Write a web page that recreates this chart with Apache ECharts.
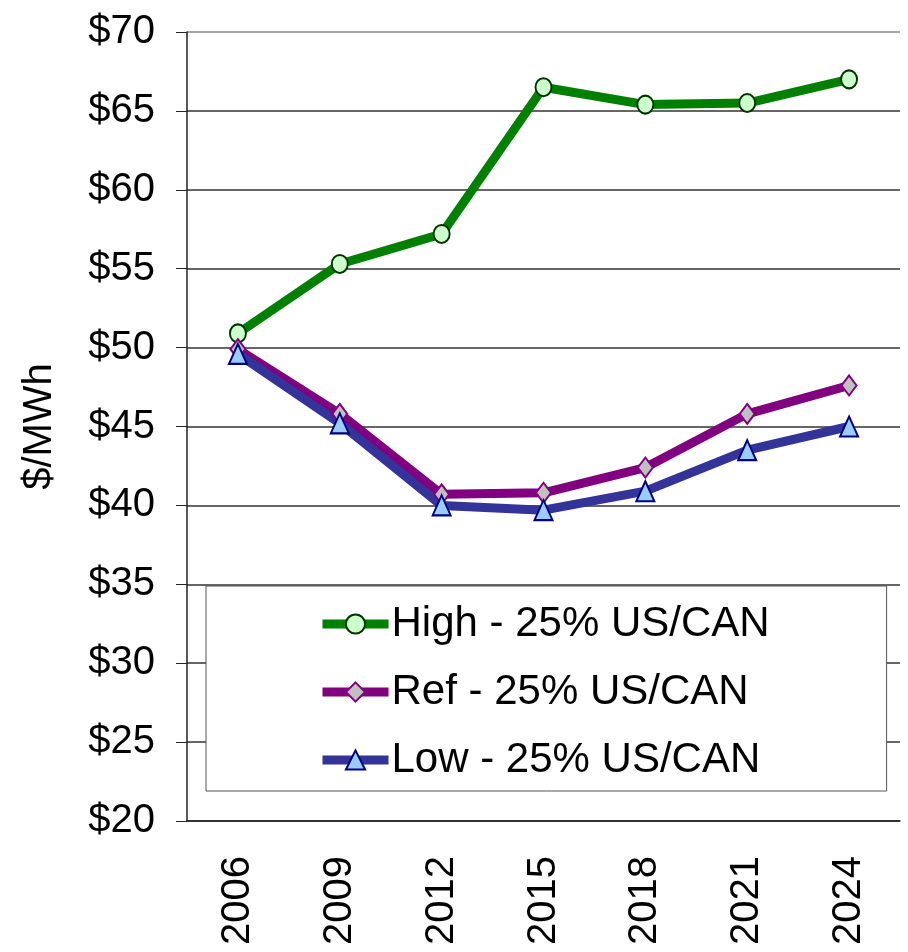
<!DOCTYPE html>
<html>
<head>
<meta charset="UTF-8">
<title>Price scenarios</title>
<script type="text/javascript" src="https://cdn.jsdelivr.net/npm/echarts@6/dist/echarts.min.js"></script>
<style>
  html, body { margin: 0; padding: 0; background: #fff; }
</style>
</head>
<body>
	<div id="main" style="height:952px;width:908px"></div>
<script type="text/javascript">
// data
var years = ['2006', '2009', '2012', '2015', '2018', '2021', '2024'];
var yTicks = [20, 25, 30, 35, 40, 45, 50, 55, 60, 65, 70];
var highVals = [50.9, 55.3, 57.2, 66.5, 65.4, 65.5, 67.0];
var refVals = [49.9, 45.8, 40.7, 40.8, 42.4, 45.8, 47.6];
var lowVals = [49.6, 45.2, 40.0, 39.7, 40.9, 43.5, 45.0];
var seriesNames = ['High - 25% US/CAN', 'Ref - 25% US/CAN', 'Low - 25% US/CAN'];

var font = '"Liberation Sans", Arial, sans-serif';
var myChart = echarts.init(document.getElementById('main'));

// grid line colours, the top ($70) line is lighter
var splitColors = yTicks.map(function (v) { return v === 70 ? '#8a8a8a' : '#333333'; });

function makeSeries(name, vals, color, symbol, size, fill, border) {
  return {
    name: name,
    type: 'line',
    data: vals,
    symbol: symbol,
    symbolSize: size,
    showAllSymbol: true,
    lineStyle: { color: color, width: 9 },
    itemStyle: { color: fill, borderColor: border, borderWidth: 2 },
    emphasis: { disabled: true },
    animation: false
  };
}

option = {
  backgroundColor: '#fff',
  textStyle: { fontFamily: font },
  grid: { left: 187, right: 8, top: 32, bottom: 131 },
  legend: {
    orient: 'vertical',
    left: 206,
    top: 586,
    padding: [17, 117, 10, 112],
    itemGap: 26,
    itemWidth: 66,
    itemHeight: 24,
    borderColor: '#555',
    borderWidth: 1,
    backgroundColor: '#fff',
    lineStyle: { width: 9 },
    textStyle: { fontSize: 42, lineHeight: 42, color: '#000', fontFamily: font, padding: [0, 0, 0, -2] },
    data: seriesNames
  },
  xAxis: {
    type: 'category',
    data: years,
    boundaryGap: true,
    axisLine: { lineStyle: { color: '#222', width: 1.5 } },
    axisTick: { length: 12, lineStyle: { color: '#222', width: 1 } },
    axisLabel: { rotate: 90, fontSize: 40, color: '#000', margin: 35, fontFamily: font }
  },
  yAxis: {
    type: 'value',
    min: 20,
    max: 70,
    interval: 5,
    name: '$/MWh',
    nameLocation: 'middle',
    nameRotate: 90,
    nameGap: 127,
    nameTextStyle: { fontSize: 40, color: '#000', fontFamily: font },
    axisLine: { show: true, lineStyle: { color: '#222', width: 1.5 } },
    axisTick: { show: true, length: 11, lineStyle: { color: '#222', width: 1 } },
    axisLabel: {
      fontSize: 40, color: '#000', margin: 32, fontFamily: font,
      formatter: function (v) { return '$' + v; }
    },
    splitLine: { show: true, lineStyle: { color: splitColors, width: 1.5 } }
  },
  series: [
    makeSeries(seriesNames[0], highVals, '#008000', 'circle', [16, 18], '#ccffcc', '#003300'),
    makeSeries(seriesNames[1], refVals, '#800080', 'diamond', [15, 20], '#c0c0c0', '#800080'),
    makeSeries(seriesNames[2], lowVals, '#333399', 'triangle', [18, 20], '#99ccff', '#000080')
  ]
};

myChart.setOption(option);
</script>
</body>
</html>
